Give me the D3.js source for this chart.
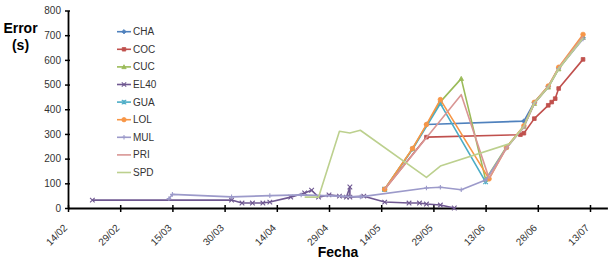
<!DOCTYPE html>
<html><head><meta charset="utf-8">
<script src="https://cdn.jsdelivr.net/npm/d3@7"></script>
<style>body{margin:0;background:#fff;} svg{display:block;font-family:"Liberation Sans",Arial,sans-serif;}</style>
</head><body><svg width="612" height="267"></svg>
<script>
// ---- data ----
const seriesNames = ["CHA","COC","CUC","EL40","GUA","LOL","MUL","PRI","SPD"];
const seriesColors = ["#4F81BD","#C0504D","#9BBB59","#6F5891","#4BACC6","#F79646","#9C9ACA","#D99694","#BCD08E"];
const seriesMarkers = ["diamond","square","triangle","x","star","circle","plus","none","none"];
const xTickLabels = ["14/02","29/02","15/03","30/03","14/04","29/04","14/05","29/05","13/06","28/06","13/07"];
const yTickValues = [0,100,200,300,400,500,600,700,800];

const CHA = [["2012-05-27",338],["2012-06-24",352],["2012-06-27",428],["2012-07-01",492],["2012-07-04",567],["2012-07-11",690]];
const COC = [["2012-05-15",76],["2012-05-27",287],["2012-06-23",297],["2012-06-24",303],["2012-06-27",362],["2012-07-01",416],["2012-07-02",429],["2012-07-03",443],["2012-07-04",484],["2012-07-11",602]];
const CUC = [["2012-05-15",76],["2012-05-23",240],["2012-05-31",430],["2012-06-06",524],["2012-06-13",115],["2012-06-19",247],["2012-06-24",330],["2012-06-27",423],["2012-07-01",489],["2012-07-04",563],["2012-07-11",690]];
const EL40 = [["2012-02-21",32],["2012-04-01",32],["2012-04-04",20],["2012-04-07",20],["2012-04-10",20],["2012-04-12",24],["2012-04-18",44],["2012-04-22",61],["2012-04-24",72],["2012-04-26",44],["2012-04-29",53],["2012-05-02",48],["2012-05-04",44],["2012-05-05",85],["2012-05-05",44],["2012-05-09",48],["2012-05-15",24],["2012-05-22",20],["2012-05-25",20],["2012-05-27",16],["2012-05-31",12],["2012-06-04",0]];
const GUA = [["2012-05-15",76],["2012-05-23",238],["2012-05-31",423],["2012-06-13",106]];
const LOL = [["2012-05-15",76],["2012-05-23",241],["2012-05-27",338],["2012-05-31",439],["2012-06-14",118],["2012-06-19",245],["2012-06-24",333],["2012-06-27",428],["2012-07-01",494],["2012-07-04",570],["2012-07-11",703]];
const MUL = [["2012-03-14",38],["2012-03-15",55],["2012-04-01",45],["2012-04-12",50],["2012-04-21",53],["2012-05-08",45],["2012-05-27",81],["2012-05-31",84],["2012-06-06",74],["2012-06-13",113],["2012-06-19",243],["2012-06-24",328],["2012-06-27",424],["2012-07-01",490],["2012-07-04",565],["2012-07-11",685]];
const PRI = [["2012-05-15",76],["2012-06-06",459],["2012-06-14",120],["2012-06-19",244],["2012-06-24",329],["2012-06-27",425],["2012-07-01",491],["2012-07-04",567],["2012-07-11",695]];
const SPD = [["2012-04-22",44],["2012-04-26",44],["2012-05-02",311],["2012-05-05",304],["2012-05-08",315],["2012-05-27",124],["2012-05-31",170],["2012-06-20",261],["2012-06-24",331],["2012-06-27",426],["2012-07-01",490],["2012-07-04",565],["2012-07-11",688]];
const seriesData = [CHA,COC,CUC,EL40,GUA,LOL,MUL,PRI,SPD];

// ---- chart ----
const parse = d3.utcParse("%Y-%m-%d");
const svg = d3.select("svg");
const x = d3.scaleUtc().domain([parse("2012-02-14"), parse("2012-07-18")]).range([68, 607.4]);
const y = d3.scaleLinear().domain([0, 800]).range([208, 10.5]);

const tickDates = xTickLabels.map(s => { const [d,m] = s.split("/"); return parse(`2012-${m}-${d}`); });

// x axis
const gx = svg.append("g").attr("transform","translate(0,208)")
  .call(d3.axisBottom(x).tickValues(tickDates).tickFormat((d,i)=>xTickLabels[i]).tickSizeOuter(0));
gx.select(".domain").attr("stroke","#000").attr("stroke-width",1.8);
gx.selectAll(".tick line").attr("y1",-3).attr("y2",4).attr("stroke","#000").attr("stroke-width",1.5);
gx.selectAll(".tick text").attr("font-size",10).attr("fill","#333")
  .attr("text-anchor","end").attr("y",0).attr("dy","0.35em")
  .attr("transform","translate(-3,18) rotate(-45)");

// y axis
const gy = svg.append("g").attr("transform","translate(68,0)")
  .call(d3.axisLeft(y).tickValues(yTickValues).tickSizeOuter(0));
gy.select(".domain").attr("stroke","#000").attr("stroke-width",1.8);
gy.selectAll(".tick line").attr("x1",-3).attr("x2",2).attr("stroke","#000").attr("stroke-width",1.5);
gy.selectAll(".tick text").attr("font-size",10).attr("fill","#333").attr("x",-7);

// titles
svg.append("text").attr("x",20.5).attr("y",33).attr("text-anchor","middle")
  .attr("font-size",14).attr("font-weight","bold").text("Error");
svg.append("text").attr("x",20.5).attr("y",50).attr("text-anchor","middle")
  .attr("font-size",14).attr("font-weight","bold").text("(s)");
svg.append("text").attr("x",338).attr("y",257).attr("text-anchor","middle")
  .attr("font-size",14).attr("font-weight","bold").text("Fecha");

function markerPath(type, s) {
  switch(type) {
    case "diamond": return `M0,${-s}L${s},0L0,${s}L${-s},0Z`;
    case "square": return `M${-s*0.8},${-s*0.8}h${1.6*s}v${1.6*s}h${-1.6*s}Z`;
    case "triangle": return `M0,${-s}L${s},${s*0.8}L${-s},${s*0.8}Z`;
    case "circle": return `M${s},0A${s},${s} 0 1,1 ${-s},0A${s},${s} 0 1,1 ${s},0Z`;
    case "x": return `M${-s},${-s}L${s},${s}M${-s},${s}L${s},${-s}`;
    case "plus": return `M${-s},0L${s},0M0,${-s}L0,${s}`;
    case "star": return `M${-s},${-s}L${s},${s}M${-s},${s}L${s},${-s}M0,${-s}L0,${s}`;
  }
  return "";
}
const filled = t => ["diamond","square","triangle","circle"].includes(t);

const line = d3.line().x(d => x(parse(d[0]))).y(d => y(d[1]));
seriesData.forEach((data, i) => {
  const g = svg.append("g");
  g.append("path").attr("d", line(data)).attr("fill","none")
    .attr("stroke", seriesColors[i]).attr("stroke-width",1.6).attr("stroke-linejoin","round");
  const m = seriesMarkers[i];
  if (m !== "none") {
    g.selectAll("path.mk").data(data).join("path").attr("class","mk")
      .attr("transform", d => `translate(${x(parse(d[0]))},${y(d[1])})`)
      .attr("d", markerPath(m, 2.3))
      .attr("fill", filled(m) ? seriesColors[i] : "none")
      .attr("stroke", seriesColors[i]).attr("stroke-width", filled(m) ? 0.8 : 1.1);
  }
});

// legend
const lg = svg.append("g");
seriesNames.forEach((name, i) => {
  const cy = 31.7 + i * 17.6;
  lg.append("line").attr("x1",117).attr("x2",131).attr("y1",cy).attr("y2",cy)
    .attr("stroke",seriesColors[i]).attr("stroke-width",1.6);
  const m = seriesMarkers[i];
  if (m !== "none") {
    lg.append("path").attr("transform",`translate(124,${cy})`).attr("d", markerPath(m, 2.2))
      .attr("fill", filled(m) ? seriesColors[i] : "none")
      .attr("stroke", seriesColors[i]).attr("stroke-width", filled(m) ? 0.8 : 1.1);
  }
  lg.append("text").attr("x",133).attr("y",cy).attr("dy","0.35em")
    .attr("font-size",10).attr("fill","#333").text(name);
});
</script>
</body></html>
